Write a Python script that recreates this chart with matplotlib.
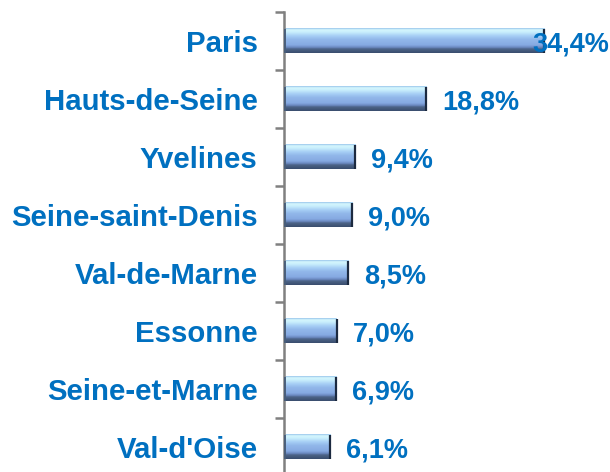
import matplotlib
matplotlib.use("Agg")
import matplotlib.pyplot as plt
import numpy as np
from matplotlib.colors import to_rgb

categories = ["Paris", "Hauts-de-Seine", "Yvelines", "Seine-saint-Denis",
              "Val-de-Marne", "Essonne", "Seine-et-Marne", "Val-d'Oise"]
values = [34.4, 18.8, 9.4, 9.0, 8.5, 7.0, 6.9, 6.1]
value_labels = ["34,4%", "18,8%", "9,4%", "9,0%", "8,5%", "7,0%", "6,9%", "6,1%"]

BLUE = "#0070C0"
plt.rcParams['font.family'] = ['Liberation Sans', 'DejaVu Sans']

fig = plt.figure(figsize=(6.10, 4.72), dpi=100)
ax = fig.add_axes([284/610, -4/472, 326/610, 464/472])

n = len(categories)
ypos = np.arange(n)
h = 0.43

# vertical gradient for bars (top -> bottom)
stops = [(0.0, "#9cc8ec"), (0.06, "#d4f6fd"), (0.16, "#c8eefc"), (0.3, "#a8d0f6"),
         (0.45, "#92b8ea"), (0.68, "#86aae2"), (0.78, "#6a88c0"), (0.84, "#4c6488"),
         (1.0, "#3a4e6e")]
N = 50
t = np.linspace(0, 1, N)
grad = np.zeros((N, 1, 3))
for c in range(3):
    xs = [s[0] for s in stops]
    ys = [to_rgb(s[1])[c] for s in stops]
    grad[:, 0, c] = np.interp(t, xs, ys)

bars = ax.barh(ypos, values, height=h, color='none', edgecolor='none')
for b, v in zip(bars, values):
    x0, y0 = b.get_x(), b.get_y()
    w, hh = b.get_width(), b.get_height()
    ax.imshow(grad, extent=[x0, x0 + w, y0 + hh, y0], aspect='auto',
              interpolation='bilinear', zorder=2)
    ax.plot([x0 + w, x0 + w], [y0, y0 + hh], color="#1c2a40", lw=1.6, zorder=3,
            solid_capstyle='butt')
    ax.plot([x0 + 0.1, x0 + 0.1], [y0, y0 + hh], color="#405878", lw=1.2, zorder=3,
            solid_capstyle='butt')

xmax = 326 / 7.56
ax.set_xlim(0, xmax)
ax.set_ylim(n - 0.5, -0.5)

for i, (v, lab) in enumerate(zip(values, value_labels)):
    x = min(v + 2.1, 32.8)
    ax.annotate(lab, xy=(x, i), xytext=(0, -2.5), textcoords='offset points',
                color=BLUE, fontsize=19.5, fontweight='bold',
                va='center', ha='left', zorder=4)

ax.set_yticks(ypos)
ax.set_yticklabels(categories, color=BLUE, fontsize=21.2, fontweight='bold')
ax.set_yticks(np.arange(n + 1) - 0.5, minor=True)
ax.tick_params(axis='y', which='major', length=0, pad=19)
ax.tick_params(axis='y', which='minor', length=6.5, width=1.8, color='#808080', direction='out')
ax.set_xticks([])

for s in ['top', 'right', 'bottom']:
    ax.spines[s].set_visible(False)
ax.spines['left'].set_color('#808080')
ax.spines['left'].set_linewidth(1.8)
ax.patch.set_visible(False)

fig.savefig("out.png", dpi=100)
